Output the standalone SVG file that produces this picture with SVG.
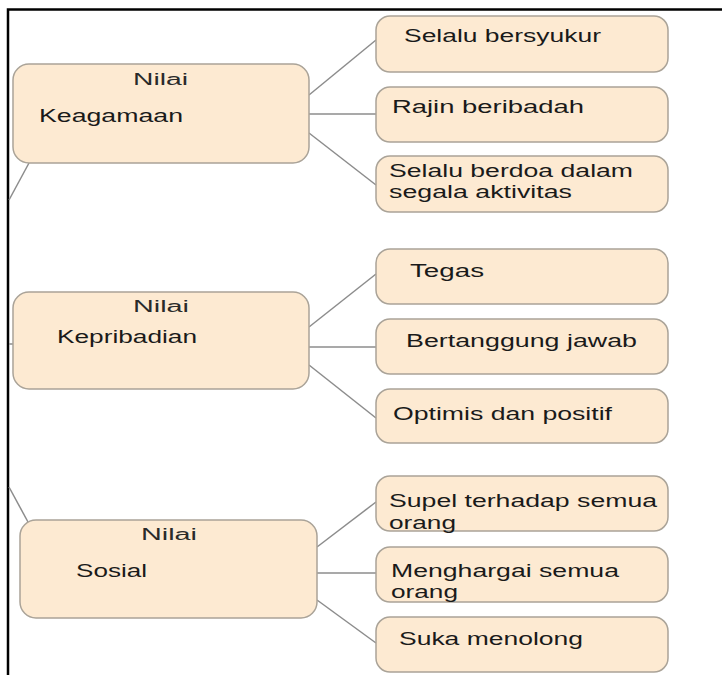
<svg xmlns="http://www.w3.org/2000/svg" width="722" height="675" viewBox="0 0 722 675">
<style>
.box{fill:#fdead2;stroke:#aaa398;stroke-width:1.5}
.t{font-family:"Liberation Sans",Arial,sans-serif;font-size:17.5px;fill:#1a1a1a}
.n{font-family:"Liberation Sans",Arial,sans-serif;font-size:16px;fill:#2a2a2a}
.c line{stroke:#8c8c8c;stroke-width:1.5}
</style>
<rect width="722" height="675" fill="#ffffff"/>
<path d="M8 675 V9.5 H722" fill="none" stroke="#000" stroke-width="2.5"/>
<g class="c" id="connectors">
<line x1="29" y1="163" x2="9" y2="200"/>
<line x1="9" y1="344" x2="13" y2="344"/>
<line x1="9" y1="487" x2="28" y2="522"/>
<line x1="309" y1="95" x2="376" y2="40"/>
<line x1="309" y1="114" x2="376" y2="114"/>
<line x1="309" y1="133" x2="376" y2="185"/>
<line x1="309" y1="327" x2="376" y2="274"/>
<line x1="309" y1="347" x2="376" y2="347"/>
<line x1="309" y1="365" x2="376" y2="418"/>
<line x1="317" y1="547" x2="376" y2="502"/>
<line x1="317" y1="573" x2="376" y2="573"/>
<line x1="317" y1="600" x2="376" y2="643"/>
</g>
<g id="keagamaan">
<rect class="box" x="13" y="64" width="296" height="99" rx="16"/>
<text class="n" x="133" y="85" textLength="55" lengthAdjust="spacingAndGlyphs">Nilai</text>
<text class="t" x="39" y="122" textLength="144" lengthAdjust="spacingAndGlyphs">Keagamaan</text>
</g>
<g id="kepribadian">
<rect class="box" x="13" y="292" width="296" height="97" rx="16"/>
<text class="n" x="133" y="312" textLength="56" lengthAdjust="spacingAndGlyphs">Nilai</text>
<text class="t" x="57" y="343" textLength="140" lengthAdjust="spacingAndGlyphs">Kepribadian</text>
</g>
<g id="sosial">
<rect class="box" x="20" y="520" width="297" height="98" rx="16"/>
<text class="n" x="141" y="540" textLength="56" lengthAdjust="spacingAndGlyphs">Nilai</text>
<text class="t" x="76" y="577" textLength="71" lengthAdjust="spacingAndGlyphs">Sosial</text>
</g>
<g id="selalu-bersyukur">
<rect class="box" x="376" y="16" width="292" height="56" rx="14"/>
<text class="t" x="404" y="42" textLength="197" lengthAdjust="spacingAndGlyphs">Selalu bersyukur</text>
</g>
<g id="rajin-beribadah">
<rect class="box" x="376" y="87" width="292" height="55" rx="14"/>
<text class="t" x="392" y="113" textLength="192" lengthAdjust="spacingAndGlyphs">Rajin beribadah</text>
</g>
<g id="selalu-berdoa">
<rect class="box" x="376" y="156" width="292" height="56" rx="14"/>
<text class="t" x="389" y="177" textLength="244" lengthAdjust="spacingAndGlyphs">Selalu berdoa dalam</text>
<text class="t" x="389" y="198" textLength="183" lengthAdjust="spacingAndGlyphs">segala aktivitas</text>
</g>
<g id="tegas">
<rect class="box" x="376" y="249" width="292" height="55" rx="14"/>
<text class="t" x="410" y="277" textLength="74" lengthAdjust="spacingAndGlyphs">Tegas</text>
</g>
<g id="bertanggung-jawab">
<rect class="box" x="376" y="319" width="292" height="55" rx="14"/>
<text class="t" x="406" y="347" textLength="231" lengthAdjust="spacingAndGlyphs">Bertanggung jawab</text>
</g>
<g id="optimis">
<rect class="box" x="376" y="389" width="292" height="54" rx="14"/>
<text class="t" x="393" y="420" textLength="219" lengthAdjust="spacingAndGlyphs">Optimis dan positif</text>
</g>
<g id="supel">
<rect class="box" x="376" y="476" width="292" height="55" rx="14"/>
<text class="t" x="389" y="507" textLength="268" lengthAdjust="spacingAndGlyphs">Supel terhadap semua</text>
<text class="t" x="389" y="529" textLength="67" lengthAdjust="spacingAndGlyphs">orang</text>
</g>
<g id="menghargai">
<rect class="box" x="376" y="547" width="292" height="55" rx="14"/>
<text class="t" x="391" y="577" textLength="228" lengthAdjust="spacingAndGlyphs">Menghargai semua</text>
<text class="t" x="391" y="598" textLength="67" lengthAdjust="spacingAndGlyphs">orang</text>
</g>
<g id="suka-menolong">
<rect class="box" x="376" y="617" width="292" height="55" rx="14"/>
<text class="t" x="399" y="645" textLength="184" lengthAdjust="spacingAndGlyphs">Suka menolong</text>
</g>
</svg>
